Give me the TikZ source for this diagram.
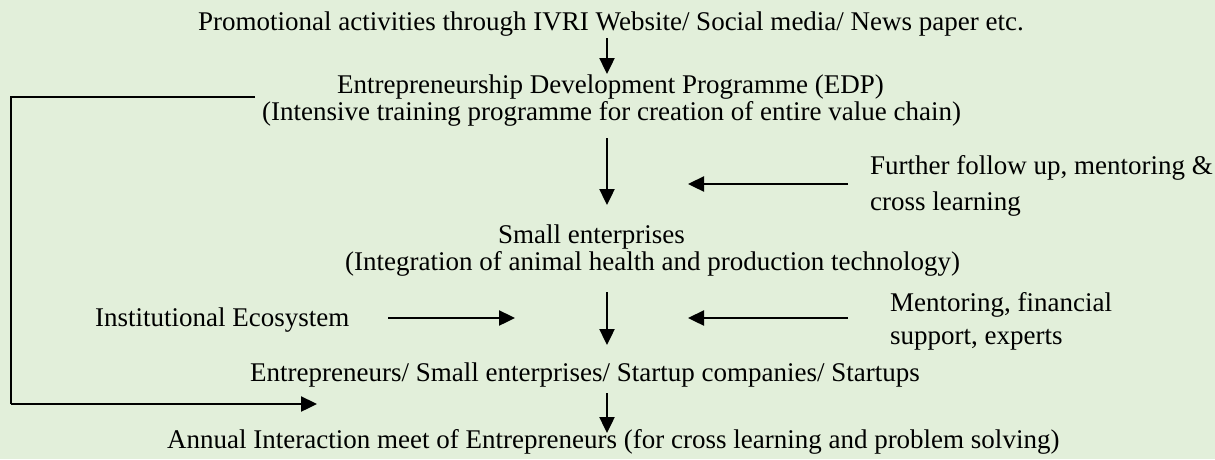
\documentclass[tikz,border=0pt]{standalone}
\usepackage{fontspec}
\setmainfont{Liberation Serif}
\usetikzlibrary{arrows.meta}
\definecolor{bg}{RGB}{226,239,218}
\begin{document}
\begin{tikzpicture}[x=1pt,y=-1pt,
  txt/.style={inner sep=0pt, font=\fontsize{27}{30}\selectfont, anchor=base west},
  arr/.style={line width=2.4pt, -{Triangle[length=16pt,width=15pt]}},
  loopline/.style={line width=1.8pt}]
\fill[bg] (0,0) rectangle (1215,459);
\useasboundingbox (0,0) rectangle (1215,459);

\node[txt] (promo)  at (198,30)  {Promotional activities through IVRI Website/ Social media/ News paper etc.};
\node[txt] (edpA)   at (337,93)  {Entrepreneurship Development Programme (EDP)};
\node[txt] (edpB)   at (262,120) {(Intensive training programme for creation of entire value chain)};
\node[txt] (follA)  at (870,174) {Further follow up, mentoring \&};
\node[txt] (follB)  at (870,210) {cross learning};
\node[txt] (smallA) at (498,243) {Small enterprises};
\node[txt] (smallB) at (345,270) {(Integration of animal health and production technology)};
\node[txt] (inst)   at (95,326)  {Institutional Ecosystem};
\node[txt] (mentA)  at (890,311) {Mentoring, financial};
\node[txt] (mentB)  at (890,344) {support, experts};
\node[txt] (entre)  at (250,381) {Entrepreneurs/ Small enterprises/ Startup companies/ Startups};
\node[txt] (annual) at (167,448) {Annual Interaction meet of Entrepreneurs (for cross learning and problem solving)};

% arrow end coordinates
\coordinate (a1s) at (607,38);  \coordinate (a1e) at (607,74);
\coordinate (a2s) at (607,138); \coordinate (a2e) at (607,205);
\coordinate (r1s) at (848,184); \coordinate (r1e) at (688,184);
\coordinate (i1s) at (388,318); \coordinate (i1e) at (515,318);
\coordinate (a3s) at (607,292); \coordinate (a3e) at (607,345);
\coordinate (r2s) at (848,318); \coordinate (r2e) at (688,318);
\coordinate (a4s) at (607,393); \coordinate (a4e) at (607,433);
\coordinate (lp1) at (255,97);  \coordinate (lp2) at (11,97);
\coordinate (lp3) at (11,404);  \coordinate (lp4) at (317,404);

\draw[arr] (a1s) -- (a1e);
\draw[arr] (a2s) -- (a2e);
\draw[arr] (r1s) -- (r1e);
\draw[arr] (i1s) -- (i1e);
\draw[arr] (a3s) -- (a3e);
\draw[arr] (r2s) -- (r2e);
\draw[arr] (a4s) -- (a4e);
\draw[loopline] (lp1) -- (lp2) -- (lp3);
\draw[arr] (lp3) -- (lp4);
\end{tikzpicture}
\end{document}
